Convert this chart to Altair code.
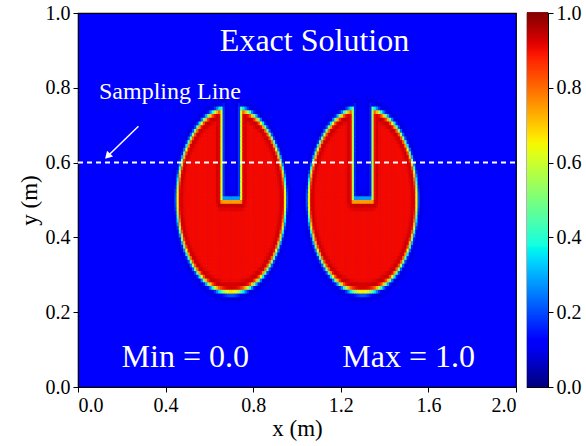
import numpy as np
import pandas as pd
import altair as alt

# ---- data ----
disk_cx = [0.70, 1.30]          # disk centres (m)
disk_cy = [0.50, 0.50]
disk_r = [0.248, 0.248]         # disk radius (m)
slot_w = [0.086, 0.088]         # slot width (m)
slot_bottom = [0.50, 0.50]      # slot bottom (m)
level_out = 0.12                # background level
level_in = 0.90                 # disk level
x_ticks = [0.0, 0.4, 0.8, 1.2, 1.6, 2.0]
y_ticks = [0.0, 0.2, 0.4, 0.6, 0.8, 1.0]
cbar_ticks = [0.0, 0.2, 0.4, 0.6, 0.8, 1.0]
sampling_y = 0.6
labels_txt = ["Exact Solution", "Min = 0.0", "Max = 1.0"]
labels_x = [1.08, 0.49, 1.51]
labels_y = [0.925, 0.08, 0.08]
samp_txt = ["Sampling Line"]
samp_x = [0.42]
samp_y = [0.788]
arrow_x = [0.276, 0.135]
arrow_y = [0.697, 0.617]

FONT = "'Liberation Serif', 'Times New Roman', Times, serif"


def jet(v):
    r = np.interp(v, [0, 0.35, 0.66, 0.89, 1], [0, 0, 1, 1, 0.5])
    g = np.interp(v, [0, 0.125, 0.375, 0.64, 0.91, 1], [0, 0, 1, 1, 0, 0])
    b = np.interp(v, [0, 0.11, 0.34, 0.65, 1], [0.5, 1, 1, 0, 0])
    return "#%02x%02x%02x" % (int(round(r * 255)), int(round(g * 255)), int(round(b * 255)))


cdom = [i / 40 for i in range(41)]
crng = [jet(v) for v in cdom]
cscale = alt.Scale(domain=cdom, range=crng, clamp=True)

# ---- field on the grid ----
h = 0.01
rows = []
for cx, cy, R, sw, sb in zip(disk_cx, disk_cy, disk_r, slot_w, slot_bottom):
    xs = np.arange(cx - 0.29, cx + 0.29, h)
    ys = np.arange(cy - 0.29, cy + 0.29, h)
    X, Y = np.meshgrid(xs + h / 2, ys + h / 2)
    rr = np.sqrt((X - cx) ** 2 + (Y - cy) ** 2)
    d_circ = R - rr
    qx = np.abs(X - cx) - sw / 2
    qy = sb - Y
    outside = np.sqrt(np.maximum(qx, 0) ** 2 + np.maximum(qy, 0) ** 2)
    inside = np.minimum(np.maximum(qx, qy), 0)
    d_box = outside + inside
    sd = np.minimum(d_circ, d_box)
    w = 0.008
    t = sd / w
    val = level_out + (level_in - level_out) * 0.5 * (1 + np.tanh(t)) \
        + 0.035 * t * np.exp(-0.5 * (t - np.sign(t) * 1.2) ** 2)
    for i in range(X.shape[0]):
        for j in range(X.shape[1]):
            x0 = X[i, j] - h / 2
            y0 = Y[i, j] - h / 2
            rows.append((x0, x0 + h * 1.25, y0, y0 + h * 1.25, float(val[i, j])))
field = pd.DataFrame(rows, columns=["x0", "x1", "y0", "y1", "v"])

W, H = 438, 374
xsc = alt.Scale(domain=[0, 2], nice=False, zero=False)
ysc = alt.Scale(domain=[0, 1], nice=False, zero=False)

heat = alt.Chart(field).mark_rect().encode(
    x=alt.X("x0:Q", scale=xsc, axis=alt.Axis(values=x_ticks, format=".1f", title="x (m)", titlePadding=2)),
    x2="x1",
    y=alt.Y("y0:Q", scale=ysc, axis=alt.Axis(values=y_ticks, format=".1f", title="y (m)", titlePadding=4)),
    y2="y1",
    color=alt.Color("v:Q", scale=cscale, legend=None),
)

line_df = pd.DataFrame({"x": [0.0], "x2": [2.0], "y": [sampling_y]})
samp_line = alt.Chart(line_df).mark_rule(color="white", strokeWidth=2, strokeDash=[5, 4]).encode(
    x="x:Q", x2="x2:Q", y="y:Q"
)

arr_df = pd.DataFrame({"x": [arrow_x[0]], "x2": [arrow_x[1]], "y": [arrow_y[0]], "y2": [arrow_y[1]]})
arrow = alt.Chart(arr_df).mark_rule(color="white", strokeWidth=1.5).encode(
    x="x:Q", x2="x2:Q", y="y:Q", y2="y2:Q"
)
head_df = pd.DataFrame({"x": [arrow_x[1]], "y": [arrow_y[1]]})
head = alt.Chart(head_df).mark_point(
    shape="triangle-up", filled=True, color="white", size=70, angle=224, opacity=1
).encode(x="x:Q", y="y:Q")

lab_df = pd.DataFrame({"t": labels_txt, "x": labels_x, "y": labels_y})
labels = alt.Chart(lab_df).mark_text(
    font=FONT, fontSize=32, color="white", baseline="middle", align="center"
).encode(x="x:Q", y="y:Q", text="t:N")

samp_df = pd.DataFrame({"t": samp_txt, "x": samp_x, "y": samp_y})
samp_lab = alt.Chart(samp_df).mark_text(
    font=FONT, fontSize=24, color="white", baseline="middle", align="center"
).encode(x="x:Q", y="y:Q", text="t:N")

main = alt.layer(heat, samp_line, arrow, head, labels, samp_lab).properties(width=W, height=H)

# colorbar
cb_v = np.arange(0, 1.0, 0.005)
cb = pd.DataFrame({"v": cb_v, "v2": cb_v + 0.0075, "a": 0.0, "b": 1.0})
cbar = alt.Chart(cb).mark_rect().encode(
    x=alt.X("a:Q", scale=alt.Scale(domain=[0, 1], nice=False), axis=None),
    x2="b",
    y=alt.Y("v:Q", scale=alt.Scale(domain=[0, 1], nice=False, zero=False),
            axis=alt.Axis(values=cbar_ticks, format=".1f", orient="right", title=None)),
    y2="v2",
    color=alt.Color("v:Q", scale=cscale, legend=None),
).properties(width=21, height=H)

chart = alt.hconcat(main, cbar, spacing=8).properties(
    background="white",
    padding={"left": 17, "top": 2, "right": 0, "bottom": 2},
).configure(font=FONT).configure_view(
    fill=jet(level_out), stroke="black", strokeWidth=1.2
).configure_axis(
    labelFont=FONT, labelFontSize=20, labelColor="black",
    titleFont=FONT, titleFontSize=23, titleColor="black", titleFontWeight="normal",
    domainColor="black", tickColor="black", tickSize=5, grid=False, labelPadding=3,
)

chart.save("out.html", embed_options={"renderer": "svg", "actions": False})
